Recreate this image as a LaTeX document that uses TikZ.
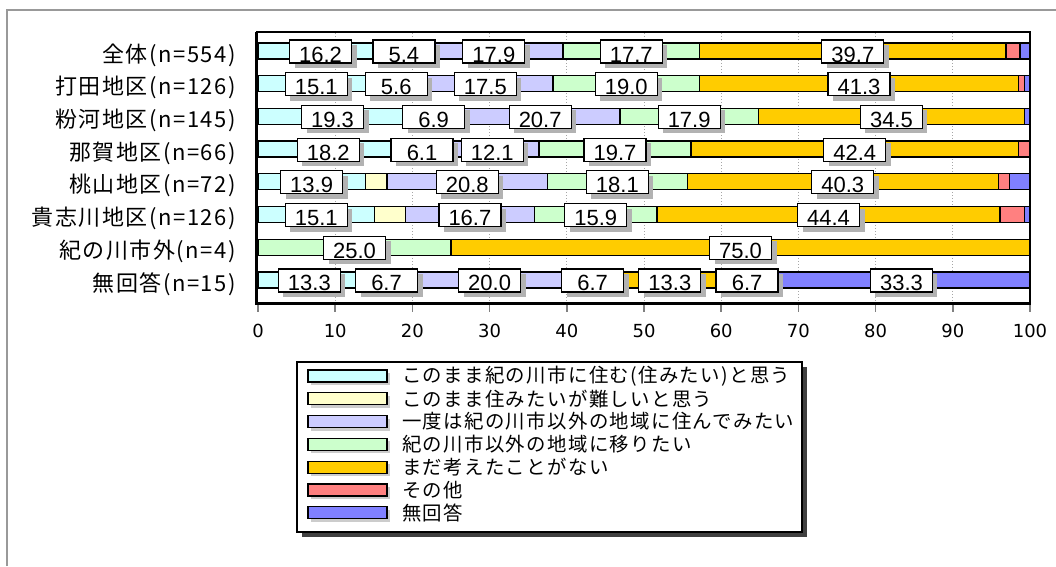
\documentclass[tikz,border=0pt]{standalone}
\usepackage{fontspec}
\usepackage{tikz}
\usetikzlibrary{shadows}
\newfontfamily\catfont[LetterSpace=7]{Noto Sans CJK JP}
\newfontfamily\numfont{DejaVu Sans}
\newfontfamily\valfont{Liberation Sans}
\definecolor{c1}{HTML}{CCFFFF}
\definecolor{c2}{HTML}{FFFFCC}
\definecolor{c3}{HTML}{CCCCFF}
\definecolor{c4}{HTML}{CCFFCC}
\definecolor{c5}{HTML}{FFCC00}
\definecolor{c6}{HTML}{FF8080}
\definecolor{c7}{HTML}{8080FF}

\begin{document}
\begin{tikzpicture}[x=1pt, y=-1pt,
  seg/.style={draw=black, line width=1.3pt},
  valbox/.style={draw=black, fill=white, line width=1.2pt, minimum width=62pt,
    minimum height=23pt, inner sep=1pt, text height=21pt, text depth=0pt,
    font=\valfont\fontsize{22}{22}\selectfont,
    drop shadow={shadow xshift=5pt, shadow yshift=-5pt, fill=black!30, opacity=1}},
  catlabel/.style={inner sep=0pt, font=\catfont\fontsize{22}{24}\selectfont},
  ticklabel/.style={inner sep=0pt, font=\numfont\fontsize{18}{18}\selectfont},
  swatch/.style={draw=black, line width=1.3pt, minimum width=79pt, minimum height=12pt,
    inner sep=0pt, drop shadow={shadow xshift=3pt, shadow yshift=-3pt, fill=black!20, opacity=1}},
  legtext/.style={inner sep=0pt, font=\catfont\fontsize{19.4}{21}\selectfont},
  legbox/.style={draw=black, fill=white, line width=1.3pt, minimum width=505pt,
    minimum height=170pt, inner sep=0pt,
    drop shadow={shadow xshift=5pt, shadow yshift=-5pt, fill=black!75, opacity=1}}]
  \useasboundingbox (0,0) rectangle (1056,566);
  \draw[gray!80, line width=1.5pt] (7,566) -- (7,10) -- (1056,10);
  \foreach \k in {1,...,9}
    \draw[gray!70, line width=1pt, dash pattern=on 1pt off 2pt] (258+77.2*\k,33) -- (258+77.2*\k,302);
  \foreach \name/\vals [count=\r] in {
      全体(n=554)/{16.2,5.4,17.9,17.7,39.7,1.8,1.3},
      打田地区(n=126)/{15.1,5.6,17.5,19.0,41.3,0.8,0.7},
      粉河地区(n=145)/{19.3,6.9,20.7,17.9,34.5,0,0.7},
      那賀地区(n=66)/{18.2,6.1,12.1,19.7,42.4,1.5,0},
      桃山地区(n=72)/{13.9,2.8,20.8,18.1,40.3,1.4,2.7},
      貴志川地区(n=126)/{15.1,4.0,16.7,15.9,44.4,3.2,0.7},
      紀の川市外(n=4)/{0,0,0,25.0,75.0,0,0},
      無回答(n=15)/{13.3,6.7,20.0,6.7,13.3,6.7,33.3}} {
    \pgfmathsetmacro\yc{51+32.7*(\r-1)}
    \node[catlabel, anchor=east] (cat\r) at (236,\yc+4) {\name};
    \foreach \v [count=\i, remember=\e as \s (initially 0)] in \vals {
      \pgfmathsetmacro\e{\s+\v}
      \draw[seg, fill=c\i] (258+7.72*\s,\yc-8) rectangle (258+7.72*\e,\yc+8);
    }
  }
  \draw[line width=1.8pt] (256,32) -- (1030,32) -- (1030,303.5);
  \draw[line width=3pt] (256,32) -- (256,303.5) -- (1031,303.5);
  \foreach \k in {0,...,10} {
    \draw[gray, line width=1.5pt] (258+77.2*\k,305) -- (258+77.2*\k,312);
    \node[ticklabel] (tick\k) at (258+77.2*\k,331) {\the\numexpr\k*10\relax};
  }
  \foreach \name/\vals [count=\r] in {
      a/{16.2,5.4,17.9,17.7,39.7,1.8,1.3},
      b/{15.1,5.6,17.5,19.0,41.3,0.8,0.7},
      c/{19.3,6.9,20.7,17.9,34.5,0,0.7},
      d/{18.2,6.1,12.1,19.7,42.4,1.5,0},
      e/{13.9,2.8,20.8,18.1,40.3,1.4,2.7},
      f/{15.1,4.0,16.7,15.9,44.4,3.2,0.7},
      g/{0,0,0,25.0,75.0,0,0},
      h/{13.3,6.7,20.0,6.7,13.3,6.7,33.3}} {
    \pgfmathsetmacro\yc{51+32.7*(\r-1)}
    \foreach \v [count=\i, remember=\e as \s (initially 0)] in \vals {
      \pgfmathsetmacro\e{\s+\v}
      \ifdim\v pt<5pt\else
        \node[valbox] (v\name\i) at (258+7.72*\s/2+7.72*\e/2,\yc+0.5) {\v};
      \fi
    }
  }
  \node[legbox] (legend) at (549.5,447) {};
  \foreach \t [count=\k] in {このまま紀の川市に住む(住みたい)と思う, このまま住みたいが難しいと思う,
      一度は紀の川市以外の地域に住んでみたい, 紀の川市以外の地域に移りたい,
      まだ考えたことがない, その他, 無回答} {
    \node[swatch, fill=c\k] (sw\k) at (347.5,376+22.8*\k-22.8) {};
    \node[legtext, anchor=west] (lt\k) at (402,376+22.8*\k-22.8) {\t};
  }
\end{tikzpicture}
\end{document}
